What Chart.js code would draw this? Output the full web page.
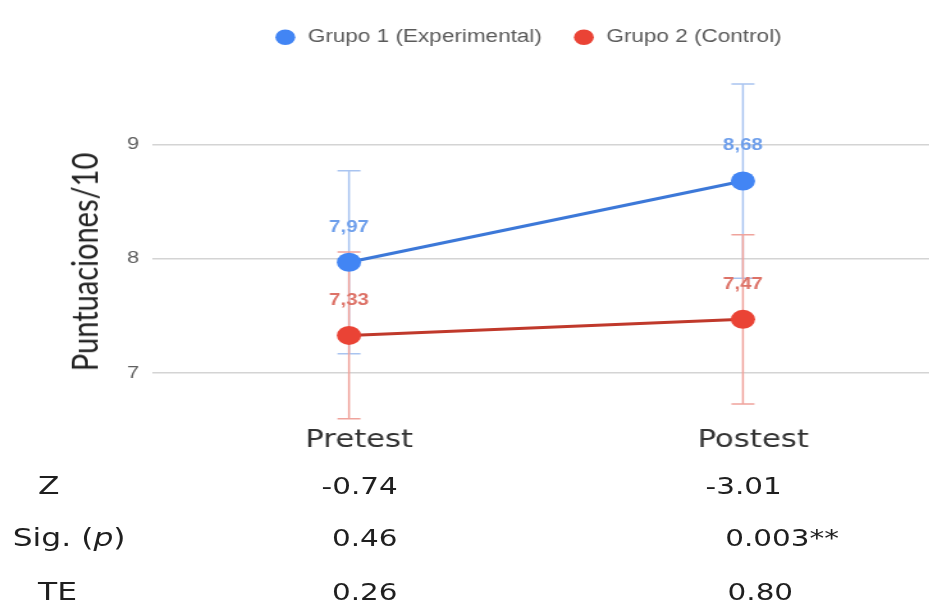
<!DOCTYPE html>
<html>
<head>
<meta charset="utf-8">
<script src="https://cdn.jsdelivr.net/npm/chart.js@4.4.0/dist/chart.umd.min.js"></script>
<style>
  body { margin: 0; background: #fff; overflow: hidden; }
  /* the reference is a horizontally stretched picture, so the whole stage is stretched too */
  #stage { position: relative; width: 726px; height: 605px; transform: scaleX(1.28); transform-origin: 0 0; }
  #chartBox { position: absolute; left: 0; top: 0; width: 726px; height: 463px; }
  #yTitle { position: absolute; left: 65px; top: 262px; transform: translate(-50%, -50%) rotate(-90deg);
    font-family: 'Lato', 'Liberation Sans', sans-serif; font-size: 29px; line-height: 1; color: #222; white-space: nowrap; }
  .cell { position: absolute; font-family: 'DejaVu Sans', sans-serif; font-size: 23px; line-height: 1;
    color: #1f1f1f; transform: translate(-50%, -50%); white-space: nowrap; }
  .cell.name { font-size: 24.5px; }
</style>
</head>
<body>
<div id="stage">
  <div id="chartBox"><canvas id="myChart"></canvas></div>
  <div id="yTitle">Puntuaciones/10</div>
  <div id="stats"></div>
</div>
<script>
'use strict';

//Data
let phaseLabels = ['Pretest', 'Postest'];
let seriesNames = ['Grupo 1 (Experimental)', 'Grupo 2 (Control)'];
let group1Means = [7.97, 8.68];
let group2Means = [7.33, 7.47];
let group1Sd = [0.80, 0.85];
let group2Sd = [0.73, 0.74];
let yTicks = [7, 8, 9];

let statNames = ['Z', 'Sig. (p)', 'TE'];
let zValues = ['-0.74', '-3.01'];
let pValues = ['0.46', '0.003**'];
let teValues = ['0.26', '0.80'];

//Dom Ref
let ctx = document.getElementById('myChart').getContext('2d');
let statsBox = document.getElementById('stats');

function toPoints(means){
  return means.map((m, i) => ({ x: i, y: m }));
}

// draws mean +/- sd whiskers behind the lines
let errorBarPlugin = {
  id: 'errorBars',
  beforeDatasetsDraw(chart){
    let c = chart.ctx;
    let xs = chart.scales.x;
    let ys = chart.scales.y;
    chart.data.datasets.forEach((ds) => {
      c.save();
      c.strokeStyle = ds.errorColor;
      c.lineWidth = 1.5;
      ds.data.forEach((pt, i) => {
        let x = xs.getPixelForValue(pt.x);
        let yTop = ys.getPixelForValue(pt.y + ds.sd[i]);
        let yBot = ys.getPixelForValue(pt.y - ds.sd[i]);
        c.beginPath();
        c.moveTo(x, yTop);
        c.lineTo(x, yBot);
        c.moveTo(x - 9, yTop);
        c.lineTo(x + 9, yTop);
        c.moveTo(x - 9, yBot);
        c.lineTo(x + 9, yBot);
        c.stroke();
      });
      c.restore();
    });
  }
};

// value labels above each point, decimal comma like the original
let valueLabelPlugin = {
  id: 'valueLabels',
  afterDatasetsDraw(chart){
    let c = chart.ctx;
    chart.data.datasets.forEach((ds, di) => {
      let meta = chart.getDatasetMeta(di);
      c.save();
      c.font = 'bold 16px "Liberation Sans", sans-serif';
      c.fillStyle = ds.labelColor;
      c.textAlign = 'center';
      c.textBaseline = 'middle';
      meta.data.forEach((el, i) => {
        c.fillText(ds.data[i].y.toFixed(2).replace('.', ','), el.x, el.y - 35);
      });
      c.restore();
    });
  }
};

let myChartObj = {
  type: 'line',
  data: {
    datasets: [{
      label: seriesNames[0],
      data: toPoints(group1Means),
      sd: group1Sd,
      borderColor: '#3c78d8',
      backgroundColor: '#4285f4',
      pointBackgroundColor: '#4285f4',
      errorColor: '#a9c4f0',
      labelColor: '#6d9eeb',
      borderWidth: 3,
      pointRadius: 9.5,
      pointHoverRadius: 9.5,
      pointBorderWidth: 0
    },
    {
      label: seriesNames[1],
      data: toPoints(group2Means),
      sd: group2Sd,
      borderColor: '#c0392b',
      backgroundColor: '#ea4335',
      pointBackgroundColor: '#ea4335',
      errorColor: '#efa39c',
      labelColor: '#dd7267',
      borderWidth: 3,
      pointRadius: 9.5,
      pointHoverRadius: 9.5,
      pointBorderWidth: 0
    }]
  },
  options: {
    responsive: true,
    maintainAspectRatio: false,
    animation: false,
    layout: {
      autoPadding: false,
      padding: { top: 4.5, left: 98.75, right: 0, bottom: 7.6 }
    },
    scales: {
      x: {
        type: 'linear',
        min: -0.5,
        max: 1.473,
        afterBuildTicks: (axis) => { axis.ticks = phaseLabels.map((l, i) => ({ value: i })); },
        afterFit: (axis) => { axis.paddingLeft = 0; axis.paddingRight = 0; },
        grid: { display: false },
        border: { display: false },
        ticks: {
          padding: 0,
          labelOffset: 8,
          color: '#333',
          font: { family: 'DejaVu Sans', size: 24 },
          callback: (value) => phaseLabels[value]
        }
      },
      y: {
        min: 6.602,
        max: 9.773,
        afterBuildTicks: (axis) => { axis.ticks = yTicks.map((v) => ({ value: v })); },
        afterFit: (axis) => { axis.width = 20; },
        grid: { color: '#d4d4d4', lineWidth: 1.5, drawTicks: false },
        border: { display: false },
        ticks: {
          padding: 10,
          color: '#5f5f5f',
          font: { family: 'Liberation Sans', size: 17 }
        }
      }
    },
    plugins: {
      legend: {
        position: 'top',
        labels: {
          usePointStyle: true,
          pointStyle: 'circle',
          boxWidth: 18,
          boxHeight: 11,
          padding: 24,
          color: '#5a5a5a',
          font: { family: 'Liberation Sans', size: 17.6 }
        }
      },
      tooltip: { enabled: false }
    }
  },
  plugins: [errorBarPlugin, valueLabelPlugin]
};

const myChart = new Chart(ctx, myChartObj);

// statistics table under the chart
let statRows = [zValues, pValues, teValues];
let rowY = [485.5, 537.5, 592];
let nameX = [38, 54, 45];
let valueX = [[281, 581], [285, 611], [285, 594]];

function addCell(html, x, y, cls){
  let div = document.createElement('div');
  div.className = cls;
  div.innerHTML = html;
  div.style.left = x + 'px';
  div.style.top = y + 'px';
  statsBox.appendChild(div);
}

for (let r = 0; r < statRows.length; r++) {
  addCell(statNames[r].replace('(p)', '(<i>p</i>)'), nameX[r], rowY[r], 'cell name');
  for (let col = 0; col < statRows[r].length; col++) {
    addCell(statRows[r][col], valueX[r][col], rowY[r], 'cell');
  }
}
</script>
</body>
</html>
